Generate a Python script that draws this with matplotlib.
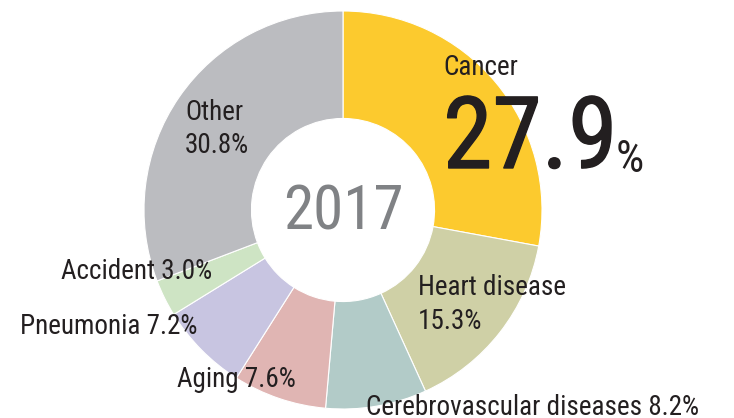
import numpy as np
import matplotlib
matplotlib.use("Agg")
import matplotlib.pyplot as plt
import matplotlib.patheffects as pe

# Causes of death, 2017 (share, %)
causes = ["Cancer", "Heart disease", "Cerebrovascular diseases", "Aging",
          "Pneumonia", "Accident", "Other"]
shares = [27.9, 15.3, 8.2, 7.6, 7.2, 3.0, 30.8]
colors = ["#FCCA2E", "#CFD0A6", "#B2CBC8", "#E0B5B3",
          "#C8C5E1", "#CEE4C4", "#BBBCC0"]
year = "2017"

plt.rcParams["font.family"] = ["Roboto Condensed", "DejaVu Sans"]
txt = "#231F20"

W, H = 734, 418
fig = plt.figure(figsize=(W / 100, H / 100), dpi=100)
ax = fig.add_axes([0, 0, 1, 1])

cx, cy, r = 343, H - 210, 199
ax.pie(shares, colors=colors, startangle=90, counterclock=False,
       center=(cx, cy), radius=r, frame=True,
       wedgeprops=dict(width=r * 0.54, edgecolor="white", linewidth=0.8))
ax.set_xlim(0, W)
ax.set_ylim(0, H)
ax.set_aspect("equal")
ax.axis("off")

ax.text(cx, cy - 2, year, ha="center", va="center", fontsize=44, color="#808285")

def label(x, y, s, **kw):
    # y given in pixels from top
    return ax.text(x, H - y, s, color=txt, fontsize=kw.pop("fontsize", 19.5), **kw)

label(443, 75, causes[0], va="baseline")
big = label(443, 168, "%.1f" % shares[0], fontsize=72, va="baseline",
            path_effects=[pe.withStroke(linewidth=1.0, foreground=txt)])
# put the small % sign right after the big number
fig.canvas.draw()
bb = big.get_window_extent().transformed(ax.transData.inverted())
label(bb.x1 - 2, 172, "%", fontsize=32, va="baseline")
label(418, 295, causes[1], va="baseline")
label(418, 329, "%.1f%%" % shares[1], va="baseline")
label(366, 415, "%s %.1f%%" % (causes[2], shares[2]), va="baseline")
label(296, 387, "%s %.1f%%" % (causes[3], shares[3]), ha="right", va="baseline")
label(197, 334, "%s %.1f%%" % (causes[4], shares[4]), ha="right", va="baseline")
label(212, 279, "%s %.1f%%" % (causes[5], shares[5]), ha="right", va="baseline")
label(185, 120, causes[6], va="baseline")
label(185, 153, "%.1f%%" % shares[6], va="baseline")

fig.savefig("out.png", dpi=100)
